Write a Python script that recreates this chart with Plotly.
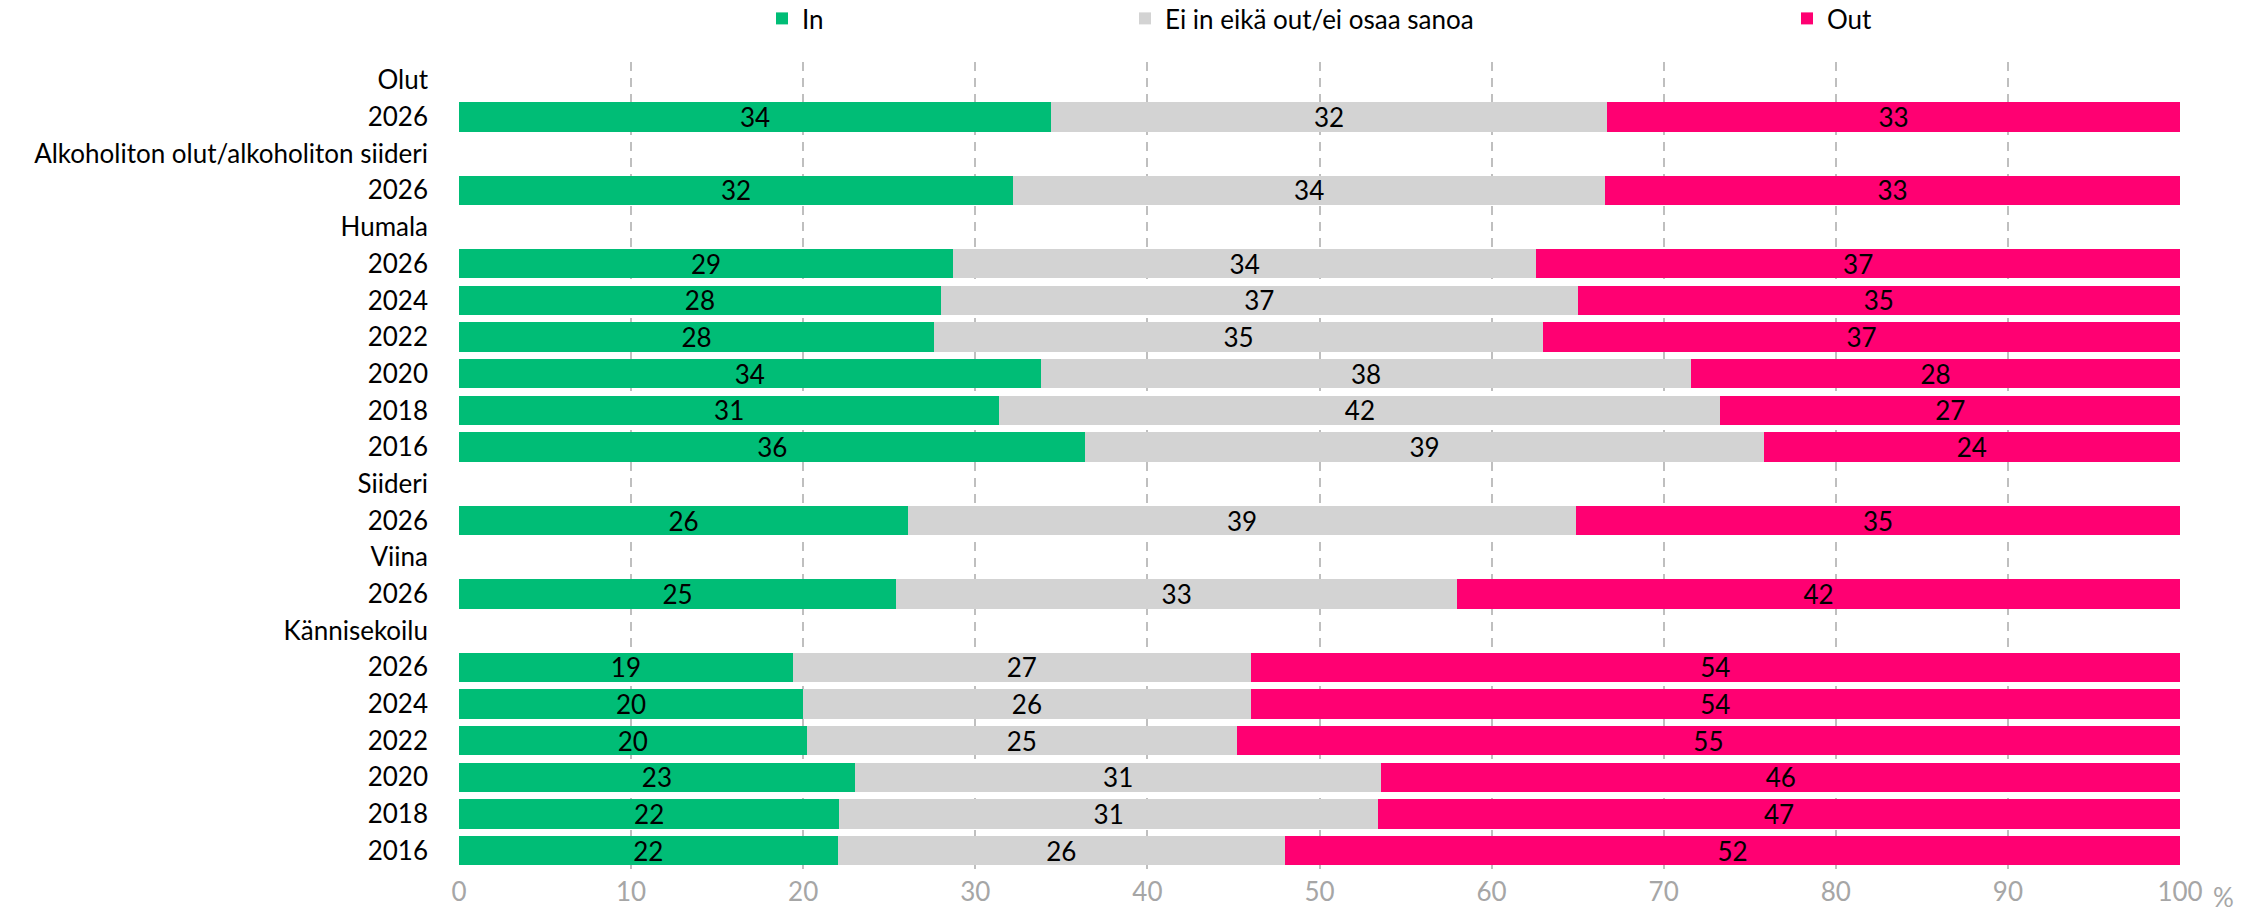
import plotly.graph_objects as go

# ---- data ----
row_labels = ["Olut", "2026",
              "Alkoholiton olut/alkoholiton siideri", "2026",
              "Humala", "2026", "2024", "2022", "2020", "2018", "2016",
              "Siideri", "2026",
              "Viina", "2026",
              "Kännisekoilu", "2026", "2024", "2022", "2020", "2018", "2016"]
in_vals = [None, 34.4, None, 32.2, None, 28.7, 28.0, 27.6, 33.8, 31.4, 36.4,
           None, 26.1, None, 25.4, None, 19.4, 20.0, 20.2, 23.0, 22.1, 22.0]
ei_vals = [None, 32.3, None, 34.4, None, 33.9, 37.0, 35.4, 37.8, 41.9, 39.4,
           None, 38.8, None, 32.6, None, 26.6, 26.0, 25.0, 30.6, 31.3, 26.0]
out_vals = [None, 33.3, None, 33.4, None, 37.4, 35.0, 37.0, 28.4, 26.7, 24.2,
            None, 35.1, None, 42.0, None, 54.0, 54.0, 54.8, 46.4, 46.6, 52.0]
series_names = ["In", "Ei in eikä out/ei osaa sanoa", "Out"]
x_ticks = [0, 10, 20, 30, 40, 50, 60, 70, 80, 90, 100]

# ---- style ----
FONT = "Lato"
FS = 26
colors = ["#00BD76", "#D3D3D3", "#FF0072"]
W, H = 2255, 914
L, R, T, B = 459, 75, 62, 45
pw = W - L - R

pos = list(range(len(row_labels)))

fig = go.Figure()
legend_px = [762, 1125, 1787]
legend_ids = ["legend", "legend2", "legend3"]
for name, vals, col, lid in zip(series_names, [in_vals, ei_vals, out_vals], colors, legend_ids):
    fig.add_trace(go.Bar(
        name=name, y=pos, x=vals, orientation="h",
        marker=dict(color=col, line=dict(width=0)),
        texttemplate="%{x:.0f}", textposition="inside", insidetextanchor="middle",
        textangle=0, constraintext="none",
        textfont=dict(family=FONT, size=FS, color="black"),
        hoverinfo="skip", legend=lid,
    ))

layout_legends = {}
for lid, px in zip(legend_ids, legend_px):
    layout_legends[lid] = dict(
        x=(px - L) / pw, xanchor="left", xref="paper",
        y=1 - 18.5 / H, yanchor="middle", yref="container",
        orientation="h", font=dict(family=FONT, size=FS, color="black"),
        bgcolor="rgba(0,0,0,0)", borderwidth=0, itemwidth=30,
    )

fig.update_layout(
    width=W, height=H,
    margin=dict(l=L, r=R, t=T, b=B, pad=0, autoexpand=False),
    paper_bgcolor="white", plot_bgcolor="white",
    barmode="stack", bargap=0.2,
    font=dict(family=FONT, size=FS, color="black"),
    showlegend=True,
    **layout_legends,
)
fig.update_xaxes(
    range=[0, 100], tickvals=x_ticks, ticktext=[str(v) for v in x_ticks],
    showgrid=True, gridcolor="#BFBFBF", gridwidth=1.5, griddash="9px,7px",
    zeroline=False, showline=False, ticks="", automargin=False,
    tickfont=dict(family=FONT, size=FS, color="#A6A6A6"),
    ticklabelstandoff=5, fixedrange=True,
)
fig.update_yaxes(
    range=[len(row_labels) - 0.5, -0.5], tickvals=pos, ticktext=row_labels,
    showgrid=False, zeroline=False, showline=False, ticks="", automargin=False,
    tickfont=dict(family=FONT, size=FS, color="black"),
    ticklabelstandoff=30, fixedrange=True,
)
fig.add_annotation(
    text="%", xref="paper", yref="paper",
    x=(2223 - L) / pw, y=-(897 - (H - B)) / (H - T - B),
    xanchor="center", yanchor="middle", showarrow=False,
    font=dict(family=FONT, size=FS, color="#A6A6A6"),
)

fig.write_html("out.html", config={"displayModeBar": False},
               post_script="document.body.style.margin='0';document.body.style.overflow='hidden';")
